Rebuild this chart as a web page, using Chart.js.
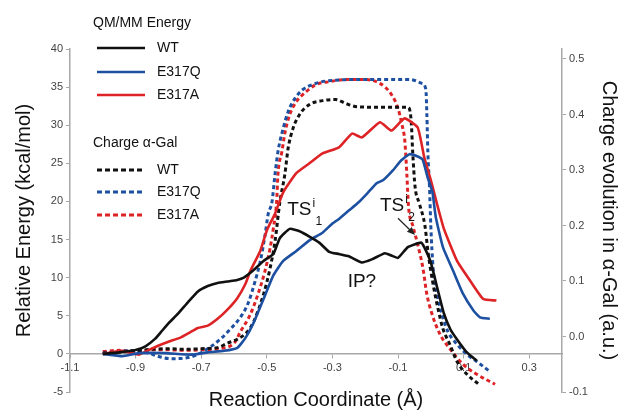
<!DOCTYPE html>
<html><head><meta charset="utf-8">
<script src="https://cdn.jsdelivr.net/npm/chart.js@4.4.1/dist/chart.umd.min.js"></script>
<style>html,body{margin:0;padding:0;background:#fff;}</style>
</head><body>
<canvas id="c" width="621" height="411"></canvas>
<script>
// ---- tick labels ----
const xTicks = [-1.1, -0.9, -0.7, -0.5, -0.3, -0.1, 0.1, 0.3];
const energyTicks = [-5, 0, 5, 10, 15, 20, 25, 30, 35, 40];
const chargeTicks = [-0.1, 0.0, 0.1, 0.2, 0.3, 0.4, 0.5];

// ---- QM/MM energy (kcal/mol) ----
const wtEnergyX = [-1.0,-0.95,-0.9,-0.87,-0.84,-0.82,-0.8,-0.77,-0.74,-0.71,-0.68,-0.65,-0.62,-0.59,-0.57,-0.54,-0.51,-0.48,-0.46,-0.43,-0.4,-0.37,-0.34,-0.31,-0.28,-0.25,-0.21,-0.18,-0.14,-0.12,-0.1,-0.07,-0.03,-0.02,0.0,0.02,0.04,0.06,0.08,0.11,0.14];
const wtEnergyY = [0,0.2,0.5,1.0,2.0,3.0,4.0,5.3,6.8,8.2,8.9,9.3,9.5,9.7,10.0,11.0,12.2,13.1,15.2,16.4,16.1,15.4,14.6,13.4,13.1,12.8,12.0,12.4,13.2,12.9,12.6,14.0,14.6,14.0,12.0,8.6,5.3,3.2,1.9,0.2,-0.9];

const e317qEnergyX = [-1.0,-0.94,-0.89,-0.81,-0.73,-0.68,-0.63,-0.59,-0.565,-0.54,-0.51,-0.48,-0.45,-0.41,-0.37,-0.33,-0.30,-0.28,-0.25,-0.22,-0.195,-0.165,-0.145,-0.115,-0.09,-0.065,-0.04,-0.025,-0.01,0.005,0.015,0.037,0.068,0.098,0.13,0.15,0.18];
const e317qEnergyY = [0,-0.3,0.1,0.1,-0.1,0.2,0.4,0.8,2.1,4.1,7.2,10.3,12.2,13.5,14.9,15.9,17.1,17.7,18.8,19.9,21.0,22.4,22.8,24.1,25.4,26.2,25.9,25.5,23.2,21.2,18.0,14.0,10.9,7.9,5.7,4.8,4.6];

const e317aEnergyX = [-1.0,-0.94,-0.89,-0.865,-0.835,-0.80,-0.765,-0.735,-0.71,-0.68,-0.65,-0.62,-0.59,-0.565,-0.55,-0.52,-0.50,-0.475,-0.45,-0.41,-0.37,-0.33,-0.28,-0.24,-0.21,-0.155,-0.12,-0.08,-0.04,-0.02,0.0,0.02,0.04,0.08,0.12,0.16,0.2];
const e317aEnergyY = [0,0.4,-0.1,0.4,1.0,1.6,2.1,2.8,3.4,3.7,4.6,5.8,7.3,9.2,10.9,13.5,16.2,18.4,21.2,23.7,25.0,26.3,27.1,28.9,28.4,30.4,29.3,30.9,29.7,25.8,22.8,19.5,16.4,12.2,9.6,7.2,7.0];

// ---- charge evolution in alpha-Gal (a.u.) ----
const wtChargeX = [-1.0,-0.95,-0.9,-0.85,-0.8,-0.75,-0.7,-0.65,-0.62,-0.59,-0.56,-0.54,-0.51,-0.49,-0.475,-0.46,-0.445,-0.435,-0.42,-0.40,-0.37,-0.33,-0.29,-0.26,-0.225,-0.16,-0.07,-0.06,-0.055,-0.048,-0.035,-0.018,-0.008,0.007,0.022,0.037,0.058,0.08,0.11,0.144];
const wtChargeY = [-0.03,-0.028,-0.026,-0.023,-0.022,-0.023,-0.022,-0.02,-0.012,-0.005,0.008,0.027,0.076,0.123,0.171,0.243,0.292,0.339,0.375,0.40,0.418,0.425,0.427,0.42,0.414,0.413,0.413,0.39,0.33,0.27,0.24,0.20,0.15,0.094,0.05,0.014,-0.014,-0.045,-0.068,-0.085];

const e317qChargeX = [-1.0,-0.95,-0.9,-0.86,-0.83,-0.79,-0.74,-0.71,-0.67,-0.64,-0.61,-0.58,-0.557,-0.536,-0.52,-0.505,-0.496,-0.484,-0.475,-0.466,-0.45,-0.435,-0.414,-0.39,-0.35,-0.31,-0.2,-0.1,-0.063,-0.027,-0.015,-0.012,-0.009,-0.004,0.0,0.007,0.019,0.034,0.052,0.08,0.11,0.14,0.18];
const e317qChargeY = [-0.03,-0.027,-0.025,-0.03,-0.036,-0.04,-0.038,-0.032,-0.018,-0.004,0.014,0.035,0.06,0.099,0.135,0.184,0.22,0.243,0.292,0.333,0.375,0.405,0.429,0.445,0.456,0.461,0.463,0.463,0.463,0.456,0.445,0.40,0.333,0.27,0.20,0.123,0.076,0.04,0.009,-0.014,-0.032,-0.045,-0.063];

const e317aChargeX = [-1.0,-0.95,-0.9,-0.85,-0.8,-0.75,-0.7,-0.65,-0.6,-0.58,-0.55,-0.527,-0.506,-0.49,-0.48,-0.47,-0.466,-0.454,-0.444,-0.43,-0.41,-0.38,-0.35,-0.31,-0.26,-0.21,-0.155,-0.12,-0.1,-0.088,-0.079,-0.073,-0.068,-0.055,-0.04,-0.024,-0.012,0.004,0.028,0.058,0.098,0.14,0.196];
const e317aChargeY = [-0.027,-0.025,-0.027,-0.024,-0.024,-0.025,-0.024,-0.022,-0.012,0.009,0.04,0.076,0.117,0.159,0.195,0.243,0.292,0.333,0.369,0.40,0.423,0.441,0.454,0.459,0.463,0.463,0.456,0.436,0.411,0.382,0.351,0.292,0.235,0.20,0.166,0.123,0.076,0.04,0.004,-0.022,-0.05,-0.068,-0.086];

// ---- annotations (in data coordinates of x / left axis) ----
const annotationLabels = ['TS', 'TS', 'IP?'];
const annotationSup = ['i', 'i', ''];
const annotationSub = ['1', '2', ''];
const annotationX = [-0.438, -0.155, -0.21];
const annotationY = [18.2, 18.8, 9.5];
const arrowFrom = [-0.1, 17.8];
const arrowTo = [-0.048, 15.6];

const FONT = 'Liberation Sans, Arial, sans-serif';
const BLACK = '#111111', BLUE = '#1d50a0', RED = '#dd2326';

function pts(xs, ys) { return xs.map((x, i) => ({ x: x, y: ys[i] })); }

function solid(label, xs, ys, color) {
  return { label, data: pts(xs, ys), yAxisID: 'y', borderColor: color, backgroundColor: color,
    borderWidth: 2.6, pointRadius: 0, tension: 0.15, fill: false };
}
function dashed(label, xs, ys, color) {
  return { label, data: pts(xs, ys), yAxisID: 'y2', borderColor: color, backgroundColor: color,
    borderWidth: 3, borderDash: [4, 3], pointRadius: 0, cubicInterpolationMode: 'monotone', fill: false };
}

const legendPlugin = {
  id: 'customLegend',
  afterDraw(chart) {
    const ctx = chart.ctx;
    ctx.save();
    ctx.font = '14px ' + FONT;
    ctx.fillStyle = '#111';
    ctx.textBaseline = 'middle';
    ctx.textAlign = 'left';
    ctx.fillText('QM/MM Energy', 93, 23);
    ctx.fillText('Charge \u03b1-Gal', 93, 143);
    const items = [
      ['WT', BLACK, 48, false], ['E317Q', BLUE, 72, false], ['E317A', RED, 95, false],
      ['WT', BLACK, 170, true], ['E317Q', BLUE, 192, true], ['E317A', RED, 215, true]
    ];
    items.forEach(([t, col, y, d]) => {
      ctx.beginPath();
      ctx.strokeStyle = col;
      ctx.lineWidth = d ? 3 : 2.6;
      ctx.setLineDash(d ? [5, 3] : []);
      ctx.moveTo(97, y); ctx.lineTo(145, y);
      ctx.stroke();
      ctx.setLineDash([]);
      ctx.fillStyle = '#111';
      ctx.fillText(t, 157, y);
    });
    ctx.restore();
  }
};

const annotationPlugin = {
  id: 'annots',
  afterDatasetsDraw(chart) {
    const ctx = chart.ctx, sx = chart.scales.x, sy = chart.scales.y;
    ctx.save();
    ctx.fillStyle = '#111';
    ctx.textBaseline = 'alphabetic';
    ctx.textAlign = 'left';
    annotationLabels.forEach((t, i) => {
      const px = sx.getPixelForValue(annotationX[i]);
      const py = sy.getPixelForValue(annotationY[i]);
      ctx.font = '19px ' + FONT;
      let w = ctx.measureText(t).width;
      if (annotationSup[i] || annotationSub[i]) {
        ctx.fillText(t, px, py);
        ctx.font = '12px ' + FONT;
        ctx.fillText(annotationSup[i], px + w + 1, py - 8);
        ctx.fillText(annotationSub[i], px + w + 4, py + 10);
      } else {
        ctx.textAlign = 'center';
        ctx.textBaseline = 'middle';
        ctx.fillText(t, px, py);
      }
    });
    // arrow
    const x1 = sx.getPixelForValue(arrowFrom[0]), y1 = sy.getPixelForValue(arrowFrom[1]);
    const x2 = sx.getPixelForValue(arrowTo[0]), y2 = sy.getPixelForValue(arrowTo[1]);
    const ang = Math.atan2(y2 - y1, x2 - x1);
    ctx.strokeStyle = '#222';
    ctx.lineWidth = 1.2;
    ctx.beginPath();
    ctx.moveTo(x1, y1);
    ctx.lineTo(x2 - 6 * Math.cos(ang), y2 - 6 * Math.sin(ang));
    ctx.stroke();
    ctx.beginPath();
    ctx.moveTo(x2, y2);
    ctx.lineTo(x2 - 8 * Math.cos(ang) + 3.5 * Math.sin(ang), y2 - 8 * Math.sin(ang) - 3.5 * Math.cos(ang));
    ctx.lineTo(x2 - 8 * Math.cos(ang) - 3.5 * Math.sin(ang), y2 - 8 * Math.sin(ang) + 3.5 * Math.cos(ang));
    ctx.closePath();
    ctx.fillStyle = '#222';
    ctx.fill();
    ctx.restore();
  }
};

const tickFont = { size: 11, family: FONT };
const axisGrey = '#a8a8a8';

new Chart(document.getElementById('c'), {
  type: 'line',
  data: {
    datasets: [
      solid('WT', wtEnergyX, wtEnergyY, BLACK),
      solid('E317Q', e317qEnergyX, e317qEnergyY, BLUE),
      solid('E317A', e317aEnergyX, e317aEnergyY, RED),
      dashed('WT charge', wtChargeX, wtChargeY, BLACK),
      dashed('E317Q charge', e317qChargeX, e317qChargeY, BLUE),
      dashed('E317A charge', e317aChargeX, e317aChargeY, RED)
    ]
  },
  options: {
    responsive: false,
    animation: false,
    devicePixelRatio: 1,
    layout: { padding: { top: 49, bottom: 19, left: 0, right: 0 } },
    plugins: { legend: { display: false }, tooltip: { enabled: false } },
    scales: {
      x: {
        type: 'linear', min: -1.1, max: 0.4, position: { y: 0 },
        afterBuildTicks: s => { s.ticks = xTicks.map(v => ({ value: v })); },
        ticks: { callback: v => Number(v).toFixed(1), color: '#444', font: tickFont, padding: 3, maxRotation: 0, autoSkip: false },
        grid: { display: true, drawOnChartArea: false, drawTicks: true, tickLength: 4, color: axisGrey },
        border: { display: true, color: axisGrey, width: 1.5 },
        title: { display: true, text: 'Reaction Coordinate (\u00c5)', color: '#111', font: { size: 20, family: FONT }, padding: { top: 11, bottom: 0 } }
      },
      y: {
        type: 'linear', position: 'left', min: -5, max: 40,
        afterBuildTicks: s => { s.ticks = energyTicks.map(v => ({ value: v })); },
        afterFit: s => { s.width = 70; },
        ticks: { color: '#444', font: tickFont, padding: 3 },
        grid: { display: true, drawOnChartArea: false, drawTicks: true, tickLength: 4, color: axisGrey },
        border: { display: true, color: axisGrey, width: 1.5 },
        title: { display: true, text: 'Relative Energy (kcal/mol)', color: '#111', font: { size: 20, family: FONT }, padding: { top: 12, bottom: 0 } }
      },
      y2: {
        type: 'linear', position: 'right', min: -0.1, max: 0.518,
        afterBuildTicks: s => { s.ticks = chargeTicks.map(v => ({ value: v })); },
        afterFit: s => { s.width = 59; },
        ticks: { callback: v => Number(v).toFixed(1), color: '#444', font: tickFont, padding: 3 },
        grid: { display: true, drawOnChartArea: false, drawTicks: true, tickLength: 4, color: axisGrey },
        border: { display: true, color: axisGrey, width: 1.5 },
        title: { display: true, text: 'Charge evolution in \u03b1-Gal (a.u.)', color: '#111', font: { size: 20, family: FONT }, padding: { top: 0, bottom: 0 } }
      }
    }
  },
  plugins: [legendPlugin, annotationPlugin]
});
</script>
</body></html>
